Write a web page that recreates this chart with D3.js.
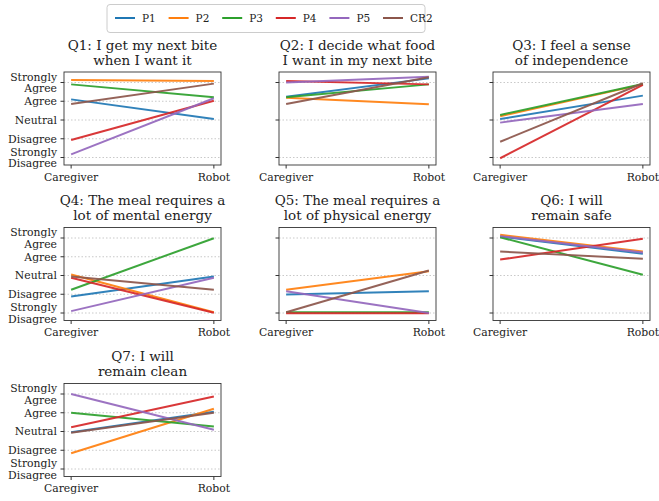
<!DOCTYPE html>
<html><head><meta charset="utf-8">
<script src="https://cdn.jsdelivr.net/npm/d3@7"></script>
<style>body{margin:0;background:#fff}svg{display:block}text{font-family:"DejaVu Serif",serif;fill:#222}</style>
</head><body><svg id="c" width="659" height="501"></svg>
<script>
const titles = [
  ["Q1: I get my next bite","when I want it"],
  ["Q2: I decide what food","I want in my next bite"],
  ["Q3: I feel a sense","of independence"],
  ["Q4: The meal requires a","lot of mental energy"],
  ["Q5: The meal requires a","lot of physical energy"],
  ["Q6: I will","remain safe"],
  ["Q7: I will","remain clean"]
];
const conditions = ["Caregiver","Robot"];
const participants = ["P1","P2","P3","P4","P5","CR2"];
const colors = ["#1f77b4","#ff7f0e","#2ca02c","#d62728","#9467bd","#8c564b"];
const likertValues = [2,1,0,-1,-2];
const likertLabels = [["Strongly","Agree"],["Agree"],["Neutral"],["Disagree"],["Strongly","Disagree"]];
const plainTicks = [2,0,-2];
// [caregiver, robot] per question Q1..Q7
const P1  = [[1.10,0.05],[1.24,2.22],[0.05,1.30],[-1.12,-0.05],[-1.01,-0.84],[2.08,1.16],[-0.04,1.05]];
const P2  = [[2.13,2.08],[1.19,0.84],[0.20,1.90],[0.05,-1.96],[-0.76,0.23],[2.17,1.28],[-1.16,1.21]];
const P3  = [[1.90,1.21],[1.21,1.90],[0.27,1.92],[-0.76,1.99],[-1.96,-1.96],[2.04,0.04],[1.00,0.27]];
const P4  = [[-1.07,1.03],[2.08,1.90],[-2.04,1.87],[-0.12,-1.99],[-2.01,-2.01],[0.85,1.96],[0.23,1.87]];
const P5  = [[-1.83,1.16],[2.00,2.31],[-0.14,0.85],[-1.90,-0.12],[-0.84,-2.00],[2.10,1.23],[2.00,0.09]];
const CR2 = [[0.85,1.94],[0.85,2.28],[-1.16,1.96],[-0.05,-0.76],[-1.96,0.27],[1.28,0.89],[-0.07,1.00]];
const series = [P1,P2,P3,P4,P5,CR2];

const svg = d3.select("#c");
const colX = [64,279,493], rowY = [72,227.5,383.5];
const W = 157, H = 93;
const xs = d3.scaleLinear().domain([-0.05,1.05]).range([0,W]);
const xpos = c => xs(conditions.indexOf(c));
const y = d3.scaleLinear().domain([-2.4,2.56]).range([H,0]);

titles.forEach((t,i)=>{
  const col=i%3,row=Math.floor(i/3);
  const g = svg.append("g").attr("transform",`translate(${colX[col]},${rowY[row]})`);
  const ticks = col===0 ? likertValues : plainTicks;
  g.selectAll(".grid").data(ticks).join("line")
    .attr("x1",0).attr("x2",W).attr("y1",d=>y(d)).attr("y2",d=>y(d))
    .attr("stroke","#bbb").attr("stroke-width",0.8).attr("stroke-dasharray","1.5,2");
  series.forEach((s,k)=>{
    g.append("path").datum(conditions.map((c,j)=>[c,s[i][j]]))
      .attr("d",d3.line().x(d=>xpos(d[0])).y(d=>y(d[1])))
      .attr("fill","none").attr("stroke",colors[k]).attr("stroke-width",2).attr("stroke-opacity",0.92);
  });
  g.append("rect").attr("width",W).attr("height",H).attr("fill","none").attr("stroke","#333").attr("stroke-width",0.9);
  const yt = g.selectAll(".yt").data(ticks).join("g").attr("transform",d=>`translate(0,${y(d)})`);
  yt.append("line").attr("x1",-3.5).attr("x2",0).attr("stroke","#333");
  if(col===0){
    yt.append("text").attr("x",-7).attr("text-anchor","end").attr("font-size",10.8)
      .each(function(d){
        const lab = likertLabels[likertValues.indexOf(d)];
        const tx=d3.select(this);
        lab.forEach((l,m)=>tx.append("tspan").attr("x",-7)
          .attr("y", (m-(lab.length-1)/2)*11.5).attr("dy","0.35em").text(l));
      });
  }
  const xt = g.selectAll(".xt").data(conditions).join("g").attr("transform",d=>`translate(${xpos(d)},${H})`);
  xt.append("line").attr("y1",0).attr("y2",3.5).attr("stroke","#333");
  xt.append("text").attr("y",15.5).attr("text-anchor","middle").attr("font-size",10.8).text(d=>d);
  t.forEach((l,m)=>g.append("text").attr("x",W/2).attr("y",-22.5+m*15).attr("text-anchor","middle")
    .attr("font-size",13.5).text(l));
});

const lg = svg.append("g");
lg.append("rect").attr("x",107).attr("y",4.5).attr("width",318).attr("height",28).attr("rx",3)
  .attr("fill","#fff").attr("stroke","#ccc");
participants.forEach((p,k)=>{
  const gx = 115 + k*53.6;
  lg.append("line").attr("x1",gx).attr("x2",gx+20).attr("y1",18).attr("y2",18).attr("stroke",colors[k]).attr("stroke-width",2);
  lg.append("text").attr("x",gx+27).attr("y",18).attr("dy","0.35em").attr("font-size",10.5).text(p);
});
</script></body></html>
